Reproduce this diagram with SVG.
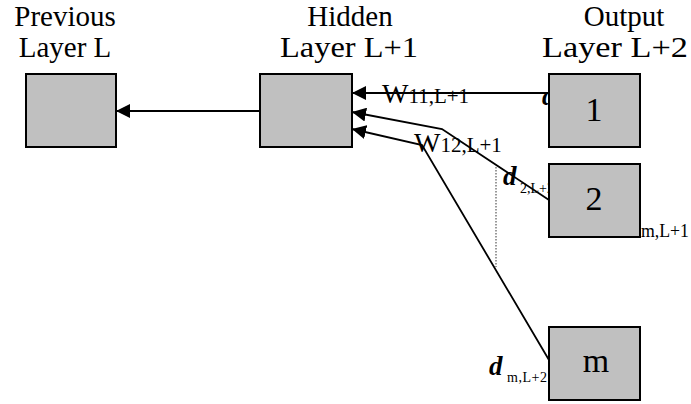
<svg xmlns="http://www.w3.org/2000/svg" width="691" height="404" viewBox="0 0 691 404">
<style>
text{font-family:"Liberation Serif","Times New Roman",serif;fill:#000}
.hdr{font-size:29px;text-anchor:middle}
.box{fill:#c0c0c0;stroke:#000;stroke-width:2}
.num{font-size:34px;text-anchor:middle}
.ln{fill:none;stroke:#000;stroke-width:1.8}
.w{font-size:28px}
.ws{font-size:21px}
.d{font-size:27px;font-style:italic;font-weight:bold}
.ds{font-size:14px}
</style>
<defs>
<marker id="ah" markerUnits="userSpaceOnUse" markerWidth="14" markerHeight="14" viewBox="0 0 14 14" refX="14" refY="7" orient="auto">
<path d="M0,0 L14,7 L0,14 Z" fill="#000"/>
</marker>
</defs>
<rect width="691" height="404" fill="#fff"/>
<g id="headers">
<text class="hdr" x="65" y="26">Previous</text>
<text class="hdr" x="65" y="57">Layer L</text>
<text class="hdr" x="350" y="26">Hidden</text>
<text class="hdr" x="349" y="57" textLength="138" lengthAdjust="spacingAndGlyphs">Layer L+1</text>
<text class="hdr" x="624" y="26">Output</text>
<text class="hdr" x="615" y="57" textLength="146" lengthAdjust="spacingAndGlyphs">Layer L+2</text>
</g>
<g id="connectors">
<path class="ln" d="M260,111 L116,111" marker-end="url(#ah)"/>
<path class="ln" d="M549,93 L352,93" marker-end="url(#ah)"/>
<path class="ln" d="M549,200 L442,129 L352,112" marker-end="url(#ah)"/>
<path class="ln" d="M549,360 L422,145 L352,129" marker-end="url(#ah)"/>
<path d="M496,167 L496,267" fill="none" stroke="#555" stroke-width="1.2" stroke-dasharray="1.5,1.5"/>
</g>
<g id="labels">
<text x="382" y="103"><tspan class="w">W</tspan><tspan class="ws">11,L+1</tspan></text>
<text x="414" y="152"><tspan class="w">W</tspan><tspan class="ws">12,L+1</tspan></text>
<text class="d" x="542" y="105">d</text>
<text x="503" y="185"><tspan class="d">d</tspan><tspan class="ds" x="520" y="193">2,L+2</tspan></text>
<text class="ws" x="641" y="237" style="font-size:19px" textLength="48" lengthAdjust="spacingAndGlyphs">m,L+1</text>
<text x="489" y="375"><tspan class="d">d</tspan><tspan class="ds" x="507" y="382" textLength="40" lengthAdjust="spacing">m,L+2</tspan></text>
</g>
<g id="node-prev"><rect class="box" x="26" y="74" width="90" height="73"/></g>
<g id="node-hidden"><rect class="box" x="260" y="74" width="92" height="73"/></g>
<g id="node-out1"><rect class="box" x="549" y="74" width="91" height="73"/><text class="num" x="594" y="121">1</text></g>
<g id="node-out2"><rect class="box" x="549" y="164" width="91" height="73"/><text class="num" x="594" y="210">2</text></g>
<g id="node-outm"><rect class="box" x="549" y="327" width="91" height="73"/><text class="num" x="596" y="372">m</text></g>
</svg>
